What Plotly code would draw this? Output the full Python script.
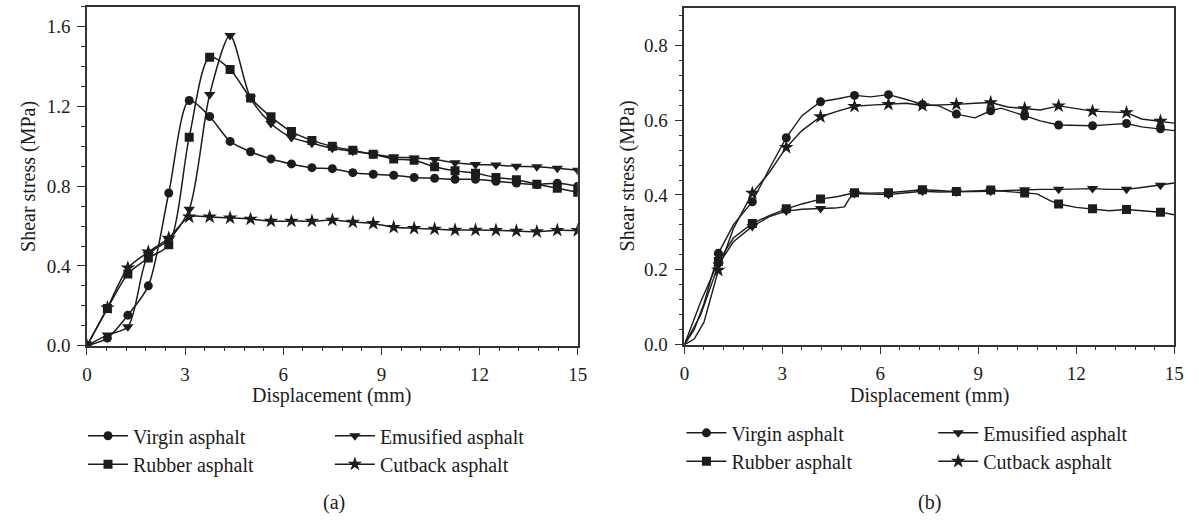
import plotly.graph_objects as go

W, H = 1199, 529
FONT = "Liberation Serif"
INK = "#1c1c1c"

SERIES = ["Virgin asphalt", "Rubber asphalt", "Emusified asphalt", "Cutback asphalt"]
SYMBOLS = ["circle", "square", "triangle-down", "star"]
SIZES = [9, 9, 10, 11]

# ---------- panel (a) ----------
A_X = [0, 0.625, 1.25, 1.875, 2.5, 3.125, 3.75, 4.375, 5.0, 5.625, 6.25, 6.875, 7.5,
       8.125, 8.75, 9.375, 10.0, 10.625, 11.25, 11.875, 12.5, 13.125, 13.75, 14.375, 15.0]
A_VIRGIN = [0, 0.038, 0.153, 0.30, 0.766, 1.23, 1.15, 1.025, 0.973, 0.937, 0.912, 0.893, 0.888,
            0.868, 0.86, 0.855, 0.844, 0.84, 0.835, 0.835, 0.825, 0.816, 0.809, 0.815, 0.80]
A_RUBBER = [0, 0.186, 0.36, 0.44, 0.506, 1.046, 1.447, 1.386, 1.243, 1.148, 1.074, 1.03, 1.0,
            0.98, 0.96, 0.937, 0.93, 0.898, 0.877, 0.865, 0.844, 0.832, 0.81, 0.79, 0.77]
A_EMULS = [0, 0.054, 0.095, 0.457, 0.53, 0.684, 1.26, 1.556, 1.243, 1.115, 1.045, 1.016, 0.99,
           0.975, 0.96, 0.947, 0.942, 0.934, 0.918, 0.909, 0.906, 0.90, 0.898, 0.89, 0.88]
A_CUTBACK = [0, 0.19, 0.39, 0.47, 0.54, 0.646, 0.646, 0.641, 0.635, 0.625, 0.625, 0.625, 0.63,
             0.62, 0.613, 0.594, 0.589, 0.585, 0.58, 0.58, 0.579, 0.575, 0.572, 0.579, 0.578]

# ---------- panel (b) ----------
B_MARK_X = [1.04, 2.08, 3.12, 4.17, 5.21, 6.25, 7.29, 8.33, 9.38, 10.42, 11.46, 12.5, 13.54, 14.58]

B_VIRGIN_X = [0, 0.3, 0.6, 1.04, 1.5, 2.08, 2.6, 3.12, 3.6, 4.17, 4.7, 5.21, 5.7, 6.25, 6.8, 7.29,
              7.8, 8.33, 8.9, 9.38, 9.7, 10.42, 10.9, 11.46, 12.0, 12.5, 13.0, 13.54, 14.0, 14.58, 15]
B_VIRGIN_Y = [0, 0.04, 0.11, 0.244, 0.32, 0.382, 0.47, 0.553, 0.612, 0.649, 0.657, 0.666, 0.662,
              0.668, 0.655, 0.642, 0.638, 0.616, 0.606, 0.625, 0.632, 0.611, 0.598, 0.587, 0.585,
              0.585, 0.588, 0.591, 0.582, 0.577, 0.572]

B_RUBBER_X = [0, 0.5, 1.04, 1.5, 2.08, 2.6, 3.12, 3.6, 4.17, 4.7, 5.21, 5.7, 6.25, 6.8, 7.29, 7.8,
              8.33, 8.9, 9.38, 9.9, 10.42, 10.8, 11.2, 11.46, 12.0, 12.5, 13.0, 13.54, 14.0, 14.58, 15]
B_RUBBER_Y = [0, 0.115, 0.222, 0.285, 0.324, 0.345, 0.363, 0.376, 0.389, 0.396, 0.406, 0.405,
              0.406, 0.41, 0.414, 0.412, 0.409, 0.411, 0.413, 0.409, 0.405, 0.403, 0.385, 0.376,
              0.367, 0.363, 0.358, 0.361, 0.358, 0.354, 0.347]

B_EMULS_X = [0, 0.5, 1.04, 1.5, 2.08, 2.6, 3.12, 3.6, 4.17, 4.6, 4.9, 5.05, 5.21, 5.7, 6.25, 6.8,
             7.29, 7.8, 8.33, 8.9, 9.38, 9.9, 10.42, 10.9, 11.46, 12.0, 12.5, 13.0, 13.54, 14.0, 14.58, 15]
B_EMULS_Y = [0, 0.08, 0.213, 0.275, 0.316, 0.342, 0.357, 0.362, 0.364, 0.365, 0.368, 0.39, 0.404,
             0.402, 0.401, 0.406, 0.41, 0.408, 0.408, 0.41, 0.41, 0.412, 0.414, 0.415, 0.415,
             0.416, 0.417, 0.415, 0.415, 0.42, 0.426, 0.432]

B_CUTBACK_X = [0, 0.3, 0.6, 0.8, 1.04, 1.5, 2.08, 2.6, 3.12, 3.6, 4.17, 4.7, 5.21, 5.7, 6.25, 6.8,
               7.29, 7.8, 8.33, 8.9, 9.38, 9.9, 10.42, 10.9, 11.46, 12.0, 12.5, 13.0, 13.54, 14.0, 14.58, 15]
B_CUTBACK_Y = [0, 0.015, 0.06, 0.12, 0.199, 0.31, 0.405, 0.46, 0.527, 0.572, 0.609, 0.624, 0.637,
               0.64, 0.642, 0.645, 0.639, 0.64, 0.642, 0.645, 0.647, 0.635, 0.631, 0.627, 0.638,
               0.63, 0.624, 0.622, 0.62, 0.603, 0.597, 0.592]

X_TICKS = [0, 3, 6, 9, 12, 15]
A_Y_TICKS = [0.0, 0.4, 0.8, 1.2, 1.6]
B_Y_TICKS = [0.0, 0.2, 0.4, 0.6, 0.8]


def px(x):
    return x / W


def py(y):
    return 1 - y / H


fig = go.Figure()

a_series = [A_VIRGIN, A_RUBBER, A_EMULS, A_CUTBACK]
legend_names_a = ["legend", "legend2", "legend3", "legend4"]
for name, ys, sym, sz, lg in zip(SERIES, a_series, SYMBOLS, SIZES, legend_names_a):
    fig.add_trace(go.Scatter(
        x=A_X, y=ys, name=name, mode="lines+markers", xaxis="x", yaxis="y",
        line=dict(color=INK, width=1.5, shape="spline", smoothing=0.8),
        marker=dict(symbol=sym, size=sz, color=INK, line=dict(width=0)),
        legend=lg, cliponaxis=True,
    ))

b_series = [(B_VIRGIN_X, B_VIRGIN_Y), (B_RUBBER_X, B_RUBBER_Y),
            (B_EMULS_X, B_EMULS_Y), (B_CUTBACK_X, B_CUTBACK_Y)]
legend_names_b = ["legend5", "legend6", "legend7", "legend8"]
for name, (xs, ys), sym, sz, lg in zip(SERIES, b_series, SYMBOLS, SIZES, legend_names_b):
    fig.add_trace(go.Scatter(
        x=xs, y=ys, mode="lines", xaxis="x2", yaxis="y2", showlegend=False,
        line=dict(color=INK, width=1.4),
    ))
    mx, my = [], []
    for xv, yv in zip(xs, ys):
        if xv in B_MARK_X:
            mx += [xv, None]
            my += [yv, None]
    fig.add_trace(go.Scatter(
        x=mx, y=my, name=name, mode="lines+markers", xaxis="x2", yaxis="y2",
        connectgaps=False,
        line=dict(color=INK, width=1.5),
        marker=dict(symbol=sym, size=sz, color=INK, line=dict(width=0)),
        legend=lg,
    ))

axis_common = dict(
    showgrid=False, zeroline=False, showline=True, linecolor="#333", linewidth=1.5,
    mirror=True, ticks="outside", ticklen=8, tickwidth=1.3, tickcolor="#333",
    tickfont=dict(family=FONT, size=19, color=INK),
    ticklabelstandoff=3,
)
minor_common = dict(ticklen=4, tickwidth=1.2, ticks="outside", tickcolor="#333", tick0=0)

fig.update_layout(
    width=W, height=H,
    margin=dict(l=0, r=0, t=0, b=0),
    paper_bgcolor="white", plot_bgcolor="white",
    font=dict(family=FONT, color=INK),
    xaxis=dict(domain=[px(83), px(580)], range=[0, 15], tickvals=X_TICKS,
               minor=dict(dtick=0.6, **minor_common), anchor="y", **axis_common),
    yaxis=dict(domain=[py(353), py(7)], range=[0, 1.7], tickvals=A_Y_TICKS, tickformat=".1f",
               minor=dict(dtick=0.1, **minor_common), anchor="x", **axis_common),
    xaxis2=dict(domain=[px(688), px(1184)], range=[0, 15], tickvals=X_TICKS,
                minor=dict(dtick=0.6, **minor_common), anchor="y2", **axis_common),
    yaxis2=dict(domain=[py(352), py(8)], range=[0, 0.9], tickvals=B_Y_TICKS, tickformat=".1f",
                minor=dict(dtick=0.04, **minor_common), anchor="x2", **axis_common),
)

# legends: one per entry, positioned like the reference's 2x2 key
leg_pos = {
    "legend": (84, 445), "legend2": (84, 474), "legend3": (334, 445), "legend4": (334, 474),
    "legend5": (690, 442), "legend6": (690, 471), "legend7": (945, 442), "legend8": (945, 471),
}
for key, (lx, ly) in leg_pos.items():
    fig.update_layout({key: dict(
        x=px(lx - 5), xanchor="left", y=py(ly), yanchor="middle",
        bgcolor="rgba(0,0,0,0)", borderwidth=0, itemwidth=40,
        font=dict(family=FONT, size=20, color=INK),
    )})

annos = [
    dict(text="Displacement (mm)", x=px(331), y=py(404)),
    dict(text="Displacement (mm)", x=px(936), y=py(404)),
    dict(text="Shear stress (MPa)", x=px(24), y=py(180), textangle=-90),
    dict(text="Shear stress (MPa)", x=px(630), y=py(180), textangle=-90),
    dict(text="(a)", x=px(333), y=py(513)),
    dict(text="(b)", x=px(936), y=py(513)),
]
for a in annos:
    fig.add_annotation(xref="paper", yref="paper", showarrow=False, xanchor="center",
                       yanchor="middle", font=dict(family=FONT, size=20, color=INK), **a)

fig.write_html("out.html")
